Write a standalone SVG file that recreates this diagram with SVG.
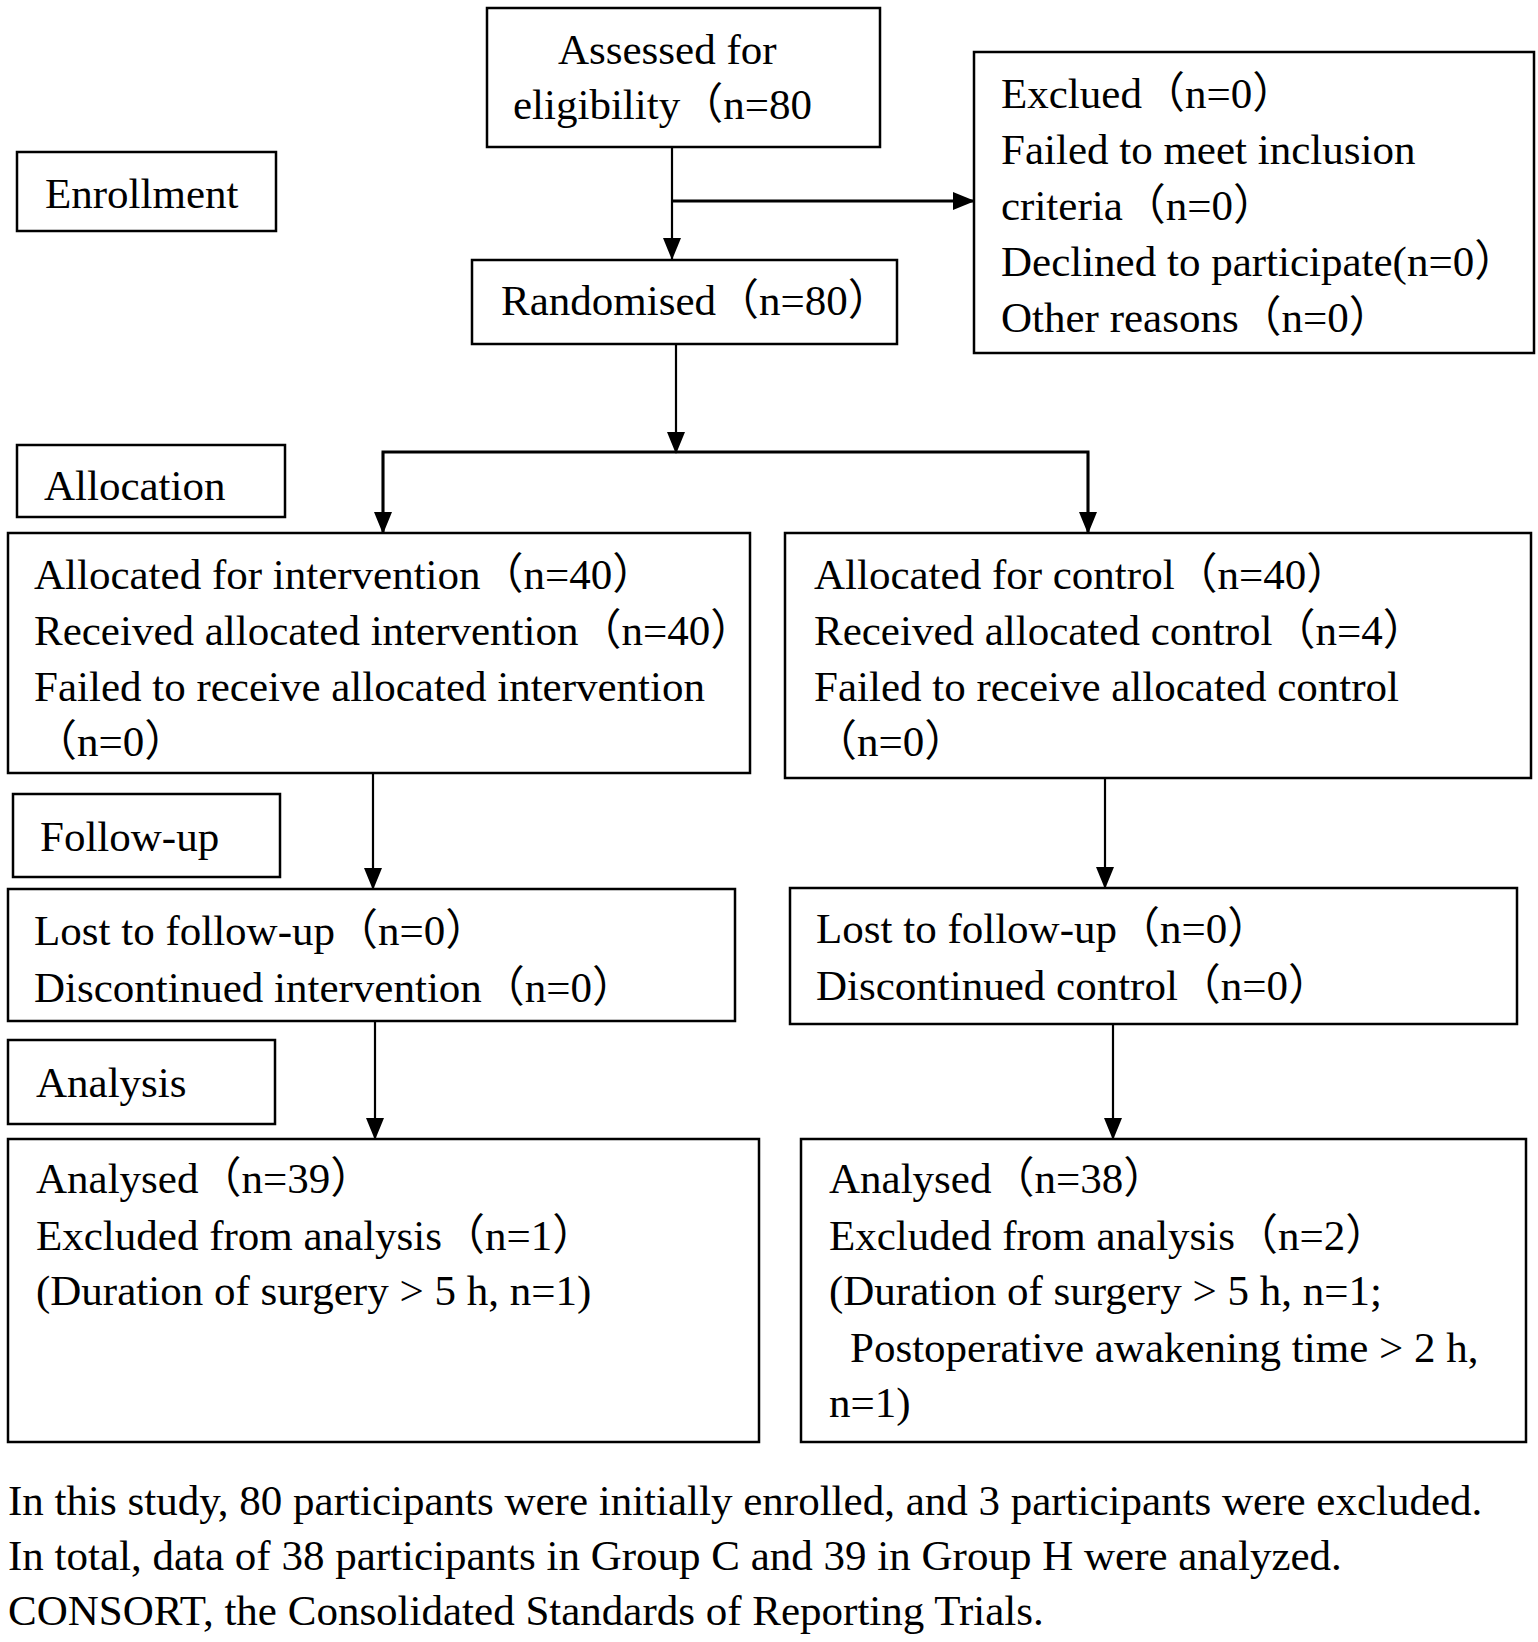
<svg xmlns="http://www.w3.org/2000/svg" width="1538" height="1642" viewBox="0 0 1538 1642">
<style>
  .box { fill: #ffffff; stroke: #000000; stroke-width: 2.5; }
  .t { font-family: "Liberation Serif", "Noto Sans CJK SC", serif; font-size: 43px; fill: #000000; }
  .c { fill: none; stroke: #000000; stroke-width: 2.2; }
  .c3 { fill: none; stroke: #000000; stroke-width: 3; }
</style>
<defs>
  <marker id="arr" markerUnits="userSpaceOnUse" markerWidth="22" markerHeight="18" viewBox="0 0 22 18" refX="21" refY="9" orient="auto">
    <path d="M0,0 L22,9 L0,18 Z" fill="#000000"/>
  </marker>
</defs>
<rect width="1538" height="1642" fill="#ffffff"/>

<g id="connectors">
  <line class="c" x1="672" y1="147" x2="672" y2="259" marker-end="url(#arr)"/>
  <line class="c3" x1="672" y1="201" x2="974" y2="201" marker-end="url(#arr)"/>
  <line class="c" x1="676" y1="344" x2="676" y2="453" marker-end="url(#arr)"/>
  <polyline class="c3" points="383,533 383,452 1088,452 1088,533"/>
  <line class="c" x1="383" y1="452" x2="383" y2="533" marker-end="url(#arr)"/>
  <line class="c" x1="1088" y1="452" x2="1088" y2="533" marker-end="url(#arr)"/>
  <line class="c" x1="373" y1="773" x2="373" y2="889" marker-end="url(#arr)"/>
  <line class="c" x1="1105" y1="778" x2="1105" y2="888" marker-end="url(#arr)"/>
  <line class="c" x1="375" y1="1021" x2="375" y2="1139" marker-end="url(#arr)"/>
  <line class="c" x1="1113" y1="1024" x2="1113" y2="1139" marker-end="url(#arr)"/>
</g>

<g id="assessed">
  <rect class="box" x="487" y="8" width="393" height="139"/>
  <text class="t" x="558" y="64">Assessed for</text>
  <text class="t" x="513" y="119">eligibility（n=80</text>
</g>

<g id="enrollment">
  <rect class="box" x="17" y="152" width="259" height="79"/>
  <text class="t" x="45" y="208">Enrollment</text>
</g>

<g id="excluded">
  <rect class="box" x="974" y="52" width="560" height="301"/>
  <text class="t" x="1001" y="108">Exclued（n=0）</text>
  <text class="t" x="1001" y="164">Failed to meet inclusion</text>
  <text class="t" x="1001" y="220">criteria（n=0）</text>
  <text class="t" x="1001" y="276">Declined to participate(n=0）</text>
  <text class="t" x="1001" y="332">Other reasons（n=0）</text>
</g>

<g id="randomised">
  <rect class="box" x="472" y="260" width="425" height="84"/>
  <text class="t" x="501" y="315">Randomised（n=80）</text>
</g>

<g id="allocation">
  <rect class="box" x="17" y="445" width="268" height="72"/>
  <text class="t" x="44" y="500">Allocation</text>
</g>

<g id="alloc-intervention">
  <rect class="box" x="8" y="533" width="742" height="240"/>
  <text class="t" x="34" y="589">Allocated for intervention（n=40）</text>
  <text class="t" x="34" y="645">Received allocated intervention（n=40）</text>
  <text class="t" x="34" y="701">Failed to receive allocated intervention</text>
  <text class="t" x="34" y="756">（n=0）</text>
</g>

<g id="alloc-control">
  <rect class="box" x="785" y="533" width="746" height="245"/>
  <text class="t" x="814" y="589">Allocated for control（n=40）</text>
  <text class="t" x="814" y="645">Received allocated control（n=4）</text>
  <text class="t" x="814" y="701">Failed to receive allocated control</text>
  <text class="t" x="814" y="756">（n=0）</text>
</g>

<g id="followup">
  <rect class="box" x="13" y="794" width="267" height="83"/>
  <text class="t" x="40" y="851">Follow-up</text>
</g>

<g id="lost-intervention">
  <rect class="box" x="8" y="889" width="727" height="132"/>
  <text class="t" x="34" y="945">Lost to follow-up（n=0）</text>
  <text class="t" x="34" y="1002">Discontinued intervention（n=0）</text>
</g>

<g id="lost-control">
  <rect class="box" x="790" y="888" width="727" height="136"/>
  <text class="t" x="816" y="943">Lost to follow-up（n=0）</text>
  <text class="t" x="816" y="1000">Discontinued control（n=0）</text>
</g>

<g id="analysis">
  <rect class="box" x="8" y="1040" width="267" height="84"/>
  <text class="t" x="36" y="1097">Analysis</text>
</g>

<g id="analysed-intervention">
  <rect class="box" x="8" y="1139" width="751" height="303"/>
  <text class="t" x="36" y="1193">Analysed（n=39）</text>
  <text class="t" x="36" y="1250">Excluded from analysis（n=1）</text>
  <text class="t" x="36" y="1305">(Duration of surgery &gt; 5 h, n=1)</text>
</g>

<g id="analysed-control">
  <rect class="box" x="801" y="1139" width="725" height="303"/>
  <text class="t" x="829" y="1193">Analysed（n=38）</text>
  <text class="t" x="829" y="1250">Excluded from analysis（n=2）</text>
  <text class="t" x="829" y="1305">(Duration of surgery &gt; 5 h, n=1;</text>
  <text class="t" x="850" y="1362">Postoperative awakening time &gt; 2 h,</text>
  <text class="t" x="829" y="1417">n=1)</text>
</g>

<g id="footnote">
  <text class="t" x="8" y="1515">In this study, 80 participants were initially enrolled, and 3 participants were excluded.</text>
  <text class="t" x="8" y="1570">In total, data of 38 participants in Group C and 39 in Group H were analyzed.</text>
  <text class="t" x="8" y="1625">CONSORT, the Consolidated Standards of Reporting Trials.</text>
</g>
</svg>
